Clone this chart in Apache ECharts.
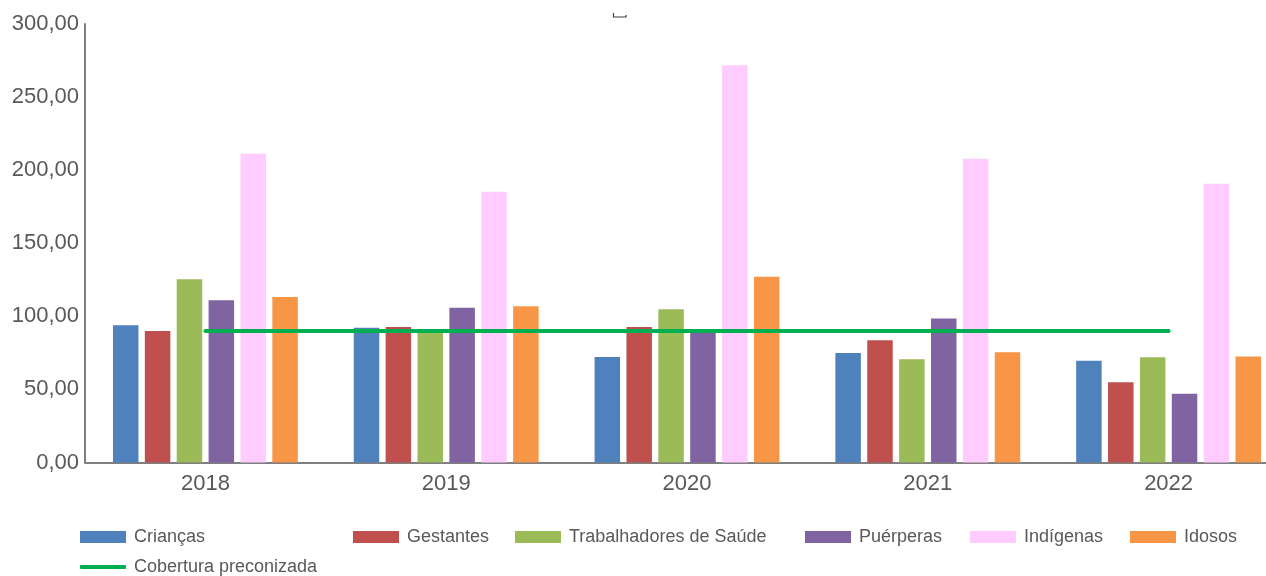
<!DOCTYPE html>
<html>
<head>
<meta charset="utf-8">
<script src="https://cdn.jsdelivr.net/npm/echarts@6/dist/echarts.min.js"></script>
<style>
  html, body { margin: 0; padding: 0; background: #ffffff; }
  #chart { width: 1266px; height: 576px; }
</style>
</head>
<body>
<div id="chart"></div>
<script>
// Vaccination coverage (%) by priority group, 2018-2022
const categories = ['2018', '2019', '2020', '2021', '2022'];
const criancas = [93.9, 92.2, 72.2, 74.9, 69.6];
const gestantes = [90.0, 92.7, 92.7, 83.6, 54.9];
const trabalhadores = [125.3, 89.5, 104.8, 70.6, 72.0];
const puerperas = [111.0, 105.9, 89.0, 98.6, 47.1];
const indigenas = [211.3, 185.3, 271.7, 207.8, 190.7];
const idosos = [113.2, 106.9, 127.1, 75.4, 72.6];
const cobertura = [90, 90, 90, 90, 90];

const barSeries = [
  { name: 'Crianças', data: criancas, color: '#4F81BD' },
  { name: 'Gestantes', data: gestantes, color: '#C0504D' },
  { name: 'Trabalhadores de Saúde', data: trabalhadores, color: '#9BBB59' },
  { name: 'Puérperas', data: puerperas, color: '#8064A2' },
  { name: 'Indígenas', data: indigenas, color: '#FFCCFF' },
  { name: 'Idosos', data: idosos, color: '#F79646' }
];

const FONT = '"Liberation Sans", Arial, sans-serif';
const TEXT = '#595959';

// legend entries placed in the original two-row layout
const legendSlots = [
  { name: 'Crianças', left: 80, top: 528 },
  { name: 'Gestantes', left: 353, top: 528 },
  { name: 'Trabalhadores de Saúde', left: 515, top: 528 },
  { name: 'Puérperas', left: 805, top: 528 },
  { name: 'Indígenas', left: 970, top: 528 },
  { name: 'Idosos', left: 1130, top: 528 }
];

const legends = legendSlots.map(s => ({
  data: [s.name],
  left: s.left,
  top: s.top,
  padding: 0,
  icon: 'rect',
  itemWidth: 46,
  itemHeight: 12,
  selectedMode: false,
  textStyle: { fontFamily: FONT, fontSize: 18, color: TEXT, padding: [0, 0, 0, 3] }
}));
legends.push({
  data: ['Cobertura preconizada'],
  left: 80,
  top: 558,
  padding: 0,
  icon: 'roundRect',
  itemWidth: 46,
  itemHeight: 4,
  selectedMode: false,
  textStyle: { fontFamily: FONT, fontSize: 18, color: TEXT, padding: [0, 0, 0, 3] }
});

const chart = echarts.init(document.getElementById('chart'), null, { renderer: 'canvas' });

chart.setOption({
  animation: false,
  backgroundColor: '#ffffff',
  legend: legends,
  // the plot runs past the right edge of the canvas
  grid: {
    left: 85, top: 24, width: 1204, height: 438.5,
    containLabel: false, outerBoundsMode: 'none'
  },
  xAxis: {
    type: 'category',
    data: categories,
    boundaryGap: true,
    axisLine: { lineStyle: { color: '#7F7F7F', width: 2 } },
    axisTick: { show: false },
    axisLabel: { fontFamily: FONT, fontSize: 22, color: TEXT, margin: 10 }
  },
  yAxis: {
    type: 'value',
    min: 0,
    max: 300,
    interval: 50,
    axisLine: { show: true, lineStyle: { color: '#7F7F7F', width: 2 } },
    axisTick: { show: false },
    splitLine: { show: false },
    axisLabel: {
      fontFamily: FONT, fontSize: 22, color: TEXT, margin: 6,
      formatter: v => v.toFixed(2).replace('.', ',')
    }
  },
  series: barSeries.map(s => ({
    name: s.name,
    type: 'bar',
    data: s.data,
    barWidth: 25.5,
    barGap: '25%',
    itemStyle: { color: s.color }
  })).concat([{
    name: 'Cobertura preconizada',
    type: 'line',
    data: cobertura,
    symbol: 'none',
    z: 5,
    lineStyle: { color: '#00B050', width: 4, cap: 'round' },
    itemStyle: { color: '#00B050' }
  }]),
  graphic: [{
    type: 'polyline',
    shape: { points: [[613.5, 13], [613.5, 17], [626, 17], [626, 15]] },
    style: { stroke: '#404040', lineWidth: 1.2, fill: null }
  }]
});
</script>
</body>
</html>
